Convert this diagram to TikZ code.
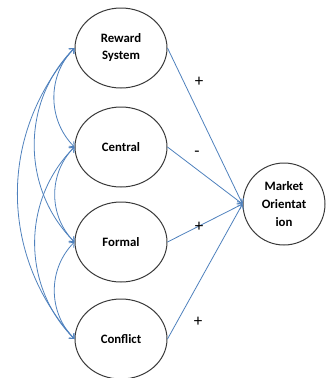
\documentclass[tikz,border=0pt]{standalone}
\usepackage{fontspec}
\setmainfont{Carlito}
\usetikzlibrary{shapes.geometric,arrows.meta}
\definecolor{linkblue}{HTML}{4F81BD}
\definecolor{rimgray}{HTML}{3A3A3A}
\begin{document}
\begin{tikzpicture}[x=1pt,y=-1pt,
  construct/.style={ellipse,draw=rimgray,line width=1pt,minimum width=92pt,
    minimum height=80pt,inner sep=0pt,align=center,
    font=\fontsize{12.8}{17}\selectfont\bfseries},
  outcome/.style={circle,draw=rimgray,line width=1pt,minimum size=82pt,
    inner sep=0pt,align=center,font=\fontsize{12.8}{18}\selectfont\bfseries},
  effect/.style={draw=linkblue,line width=0.8pt,-{Straight Barb[length=4pt,width=7pt]}},
  corr/.style={draw=linkblue,line width=0.8pt,
    {Straight Barb[length=4pt,width=7pt]}-{Straight Barb[length=4pt,width=7pt]}},
  sign/.style={font=\fontsize{17}{17}\selectfont}]
\useasboundingbox (0,0) rectangle (325,378);

% predictors
\node[construct] (rs) at (121,48)  {Reward\\System};
\node[construct] (ce) at (121,147) {Central};
\node[construct] (fo) at (121,242) {Formal};
\node[construct] (co) at (121,339) {Conflict};

% outcome
\node[outcome] (mo) at (284,204) {Market\\Orientat\\ion};

% direct effects
\draw[effect] (rs.east) -- (mo.west);
\draw[effect] (ce.east) -- (mo.west);
\draw[effect] (fo.east) -- (mo.west);
\draw[effect] (co.east) -- (mo.west);

% signs of the effects
\node[sign] (s1) at (199,82)  {+};
\node[sign] (s2) at (197,154) {-};
\node[sign] (s3) at (199,227) {+};
\node[sign] (s4) at (198,322) {+};

% correlations among predictors
\draw[corr] (rs.west) to[bend right=45] (ce.west);
\draw[corr] (ce.west) to[bend right=45] (fo.west);
\draw[corr] (fo.west) to[bend right=45] (co.west);
\draw[corr] (rs.west) to[bend right=45] (fo.west);
\draw[corr] (ce.west) to[bend right=45] (co.west);
\draw[corr] (rs.west) to[bend right=42] (co.west);
\end{tikzpicture}
\end{document}
